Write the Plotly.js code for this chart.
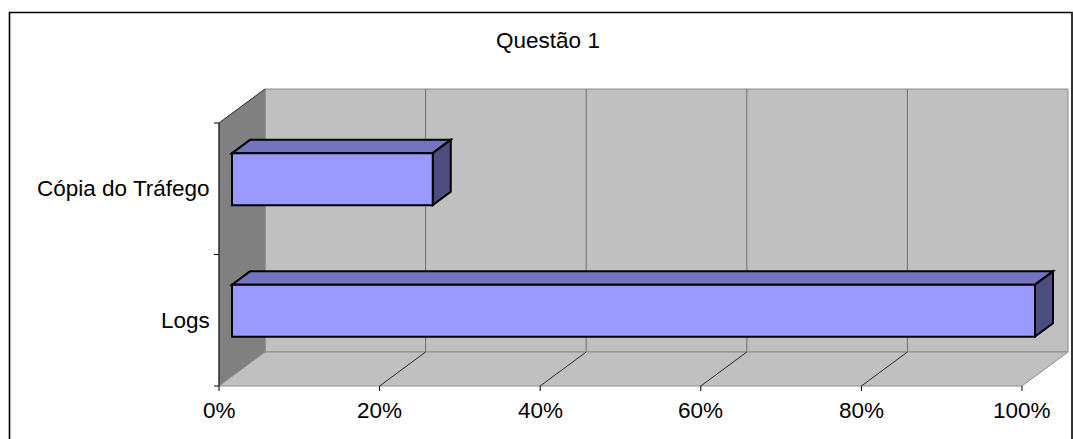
<!DOCTYPE html>
<html>
<head>
<meta charset="utf-8">
<script src="https://cdn.plot.ly/plotly-3.0.1.min.js"></script>
<style>html,body{margin:0;padding:0;background:#fff;}#chart{width:1073px;height:439px;}</style>
</head>
<body>
<div id="chart"></div>
<script>
// ---- data ----
const chartTitle = 'Questão 1';
const categories = ['Logs', 'Cópia do Tráfego'];
const values = [1.00, 0.25];
const tickValues = [0, 0.2, 0.4, 0.6, 0.8, 1.0];
const tickLabels = ['0%', '20%', '40%', '60%', '80%', '100%'];

// ---- geometry (pixel layout of the pseudo-3D box) ----
const W = 1073, H = 439;
const frontLeftPx = 219, frontRightPx = 1022;   // 0% .. 100% on the front edge
const floorFrontPx = 386, topFrontPx = 123;     // front bottom / top of the category axis
const depthPx = {x: 46, y: 34};                 // oblique depth offset
const pxPerX = frontRightPx - frontLeftPx;
const pxPerY = (floorFrontPx - topFrontPx) / categories.length;
const DX = depthPx.x / pxPerX, DY = depthPx.y / pxPerY;
const xRange = [-frontLeftPx / pxPerX, (W - frontLeftPx) / pxPerX];
const yRange = [-(H - floorFrontPx) / pxPerY, floorFrontPx / pxPerY];
const nCat = categories.length;

// point in (value, category-units, depth fraction)
function P(v, c, d) { return [v + d * DX, c + d * DY]; }
function poly(pts) {
  return 'M' + pts.map(p => p[0] + ',' + p[1]).join('L') + 'Z';
}
function line(a, b) { return 'M' + a[0] + ',' + a[1] + 'L' + b[0] + ',' + b[1]; }

const shapes = [];
function addPoly(pts, fill, lc, lw) {
  shapes.push({type: 'path', xref: 'x', yref: 'y', path: poly(pts), fillcolor: fill,
    line: {color: lc, width: lw}, layer: 'above'});
}
function addLine(a, b, lc, lw) {
  shapes.push({type: 'path', xref: 'x', yref: 'y', path: line(a, b),
    line: {color: lc, width: lw}, layer: 'above'});
}

const vMin = tickValues[0], vMax = tickValues[tickValues.length - 1];
// back wall
addPoly([P(vMin, 0, 1), P(vMax, 0, 1), P(vMax, nCat, 1), P(vMin, nCat, 1)], '#C0C0C0', '#8C8C8C', 1);
// back wall gridlines
tickValues.slice(1, -1).forEach(v => addLine(P(v, 0, 1), P(v, nCat, 1), '#6E6E6E', 1));
// side wall
addPoly([P(vMin, 0, 0), P(vMin, nCat, 0), P(vMin, nCat, 1), P(vMin, 0, 1)], '#808080', '#808080', 1);
addLine(P(vMin, nCat, 0), P(vMin, nCat, 1), '#333333', 1);
// floor
addPoly([P(vMin, 0, 0), P(vMax, 0, 0), P(vMax, 0, 1), P(vMin, 0, 1)], '#C0C0C0', '#8C8C8C', 1);
tickValues.slice(1, -1).forEach(v => addLine(P(v, 0, 0), P(v, 0, 1), '#000000', 0.8));
// axis lines & ticks
addLine(P(vMin, 0, 0), P(vMin, nCat, 0), '#000000', 1);
const tickLenX = 5 / pxPerX, tickLenY = 5 / pxPerY;
for (let i = 0; i <= nCat; i++) addLine(P(vMin - tickLenX, i, 0), P(vMin, i, 0), '#000000', 1);
tickValues.forEach(v => addLine(P(v, -tickLenY, 0), P(v, 0, 0), '#000000', 1));

// bars
const barHalf = 26 / pxPerY;
const d0 = 13 / depthPx.x, d1 = 31 / depthPx.x;
categories.forEach((cat, i) => {
  const c = i + 0.5, v = values[i];
  const lo = c - barHalf, hi = c + barHalf;
  addPoly([P(0, hi, d0), P(v, hi, d0), P(v, hi, d1), P(0, hi, d1)], '#7373C0', '#000000', 2);
  addPoly([P(v, lo, d0), P(v, hi, d0), P(v, hi, d1), P(v, lo, d1)], '#4D4D80', '#000000', 2);
  addPoly([P(0, lo, d0), P(v, lo, d0), P(v, hi, d0), P(0, hi, d0)], '#9999FF', '#000000', 2);
});

// outer chart border
shapes.push({type: 'rect', xref: 'paper', yref: 'paper',
  x0: 9.5 / W, x1: 1072 / W, y0: -0.05, y1: 1 - 12.5 / H,
  line: {color: '#000000', width: 1.6}, fillcolor: 'rgba(0,0,0,0)', layer: 'above'});

const font = {family: 'Liberation Sans, Arial, sans-serif', size: 22.5, color: '#000000'};
const annotations = [];
categories.forEach((cat, i) => {
  annotations.push({xref: 'x', yref: 'y', x: -7 / pxPerX, y: i + 0.5, text: cat,
    showarrow: false, xanchor: 'right', yanchor: 'middle', font: font});
});
tickValues.forEach((v, i) => {
  annotations.push({xref: 'x', yref: 'y', x: v, y: -24 / pxPerY, text: tickLabels[i],
    showarrow: false, xanchor: 'center', yanchor: 'middle', font: font});
});

const layout = {
  width: W, height: H, autosize: false,
  margin: {l: 0, r: 0, t: 0, b: 0},
  paper_bgcolor: '#FFFFFF', plot_bgcolor: 'rgba(0,0,0,0)',
  title: {text: chartTitle, font: font, x: 548 / W, xanchor: 'center',
          y: 1 - 40 / H, yanchor: 'middle', yref: 'container'},
  xaxis: {range: xRange, visible: false, fixedrange: true},
  yaxis: {range: yRange, visible: false, fixedrange: true},
  showlegend: false,
  shapes: shapes,
  annotations: annotations
};
Plotly.newPlot('chart', [{x: [], y: [], type: 'scatter', hoverinfo: 'skip'}], layout,
  {staticPlot: true, displayModeBar: false});
</script>
</body>
</html>
